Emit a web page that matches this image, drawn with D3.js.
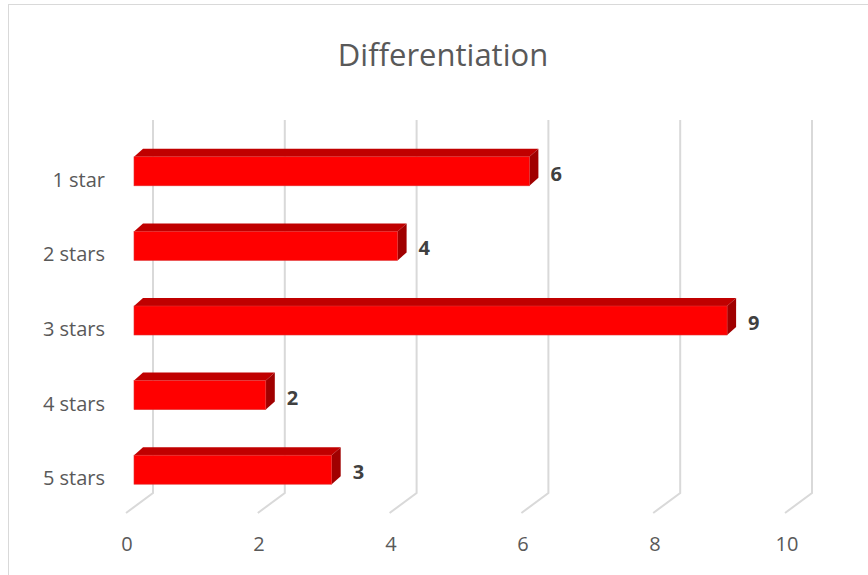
<!DOCTYPE html>
<html><head><meta charset="utf-8">
<script src="https://cdn.jsdelivr.net/npm/d3@7"></script>
<style>body{margin:0;background:#fff}svg{display:block}</style>
</head><body>
<svg id="c" width="868" height="575"></svg>
<script>
const categories = ["1 star","2 stars","3 stars","4 stars","5 stars"];
const values = [6,4,9,2,3];
const ticks = [0,2,4,6,8,10];
const title = "Differentiation";

const svg = d3.select("#c");
const font = "'Open Sans', 'Liberation Sans', sans-serif";
const depthX = 9, depthY = -8;
const floorDX = -27, floorDY = 20;

svg.append("rect").attr("x",8.5).attr("y",4.5).attr("width",880).attr("height",600)
  .attr("fill","#fff").attr("stroke","#d9d9d9").attr("stroke-width",1);

svg.append("text").attr("x",443).attr("y",66).attr("text-anchor","middle")
  .attr("font-family",font).attr("font-size",31).attr("fill","#595959").text(title);

const xBack = d3.scaleLinear().domain([0,10]).range([153,812]);
const xFront = d3.scaleLinear().domain([0,10]).range([134,793]);
const xLabel = d3.scaleLinear().domain([0,10]).range([127,787]);
const y = d3.scaleBand().domain(categories).range([134,507]);
const barH = 29;
const gridTop = 120, gridBottom = 493;

// gridlines (back wall + floor)
const g = svg.append("g");
ticks.forEach(t => {
  const xb = xBack(t);
  g.append("path")
    .attr("d", `M${xb},${gridTop} L${xb},${gridBottom} L${xb+floorDX},${gridBottom+floorDY}`)
    .attr("fill","none").attr("stroke","#d9d9d9").attr("stroke-width",2);
});

// axis tick labels
svg.append("g").selectAll("text").data(ticks).join("text")
  .attr("x", d => xLabel(d)).attr("y", 551).attr("text-anchor","middle")
  .attr("font-family",font).attr("font-size",20).attr("fill","#595959").text(d => d);

// category labels
svg.append("g").selectAll("text").data(categories).join("text")
  .attr("x", 105).attr("y", d => y(d) + y.bandwidth()/2 + 15.5).attr("text-anchor","end")
  .attr("font-family",font).attr("font-size",20).attr("fill","#595959").text(d => d);

// bars
const bars = svg.append("g");
categories.forEach((c,i) => {
  const v = values[i];
  const x0 = xFront(0), x1 = xFront(v);
  const yt = y(c) + y.bandwidth()/2 - barH/2, yb = yt + barH;
  bars.append("path")
    .attr("d", `M${x0},${yt} L${x0+depthX},${yt+depthY} L${x1+depthX},${yt+depthY} L${x1},${yt} Z`)
    .attr("fill","#c00000");
  bars.append("path")
    .attr("d", `M${x1},${yt} L${x1+depthX},${yt+depthY} L${x1+depthX},${yb+depthY} L${x1},${yb} Z`)
    .attr("fill","#a00000");
  bars.append("rect").attr("x",x0).attr("y",yt).attr("width",x1-x0).attr("height",barH)
    .attr("fill","#ff0000").attr("stroke","#e03030").attr("stroke-width",0.6);
  bars.append("text").attr("x", x1 + depthX + 12).attr("y", yt + barH/2 + 9.5)
    .attr("font-family",font).attr("font-size",20).attr("font-weight","bold")
    .attr("fill","#404040").text(v);
});
</script>
</body></html>
